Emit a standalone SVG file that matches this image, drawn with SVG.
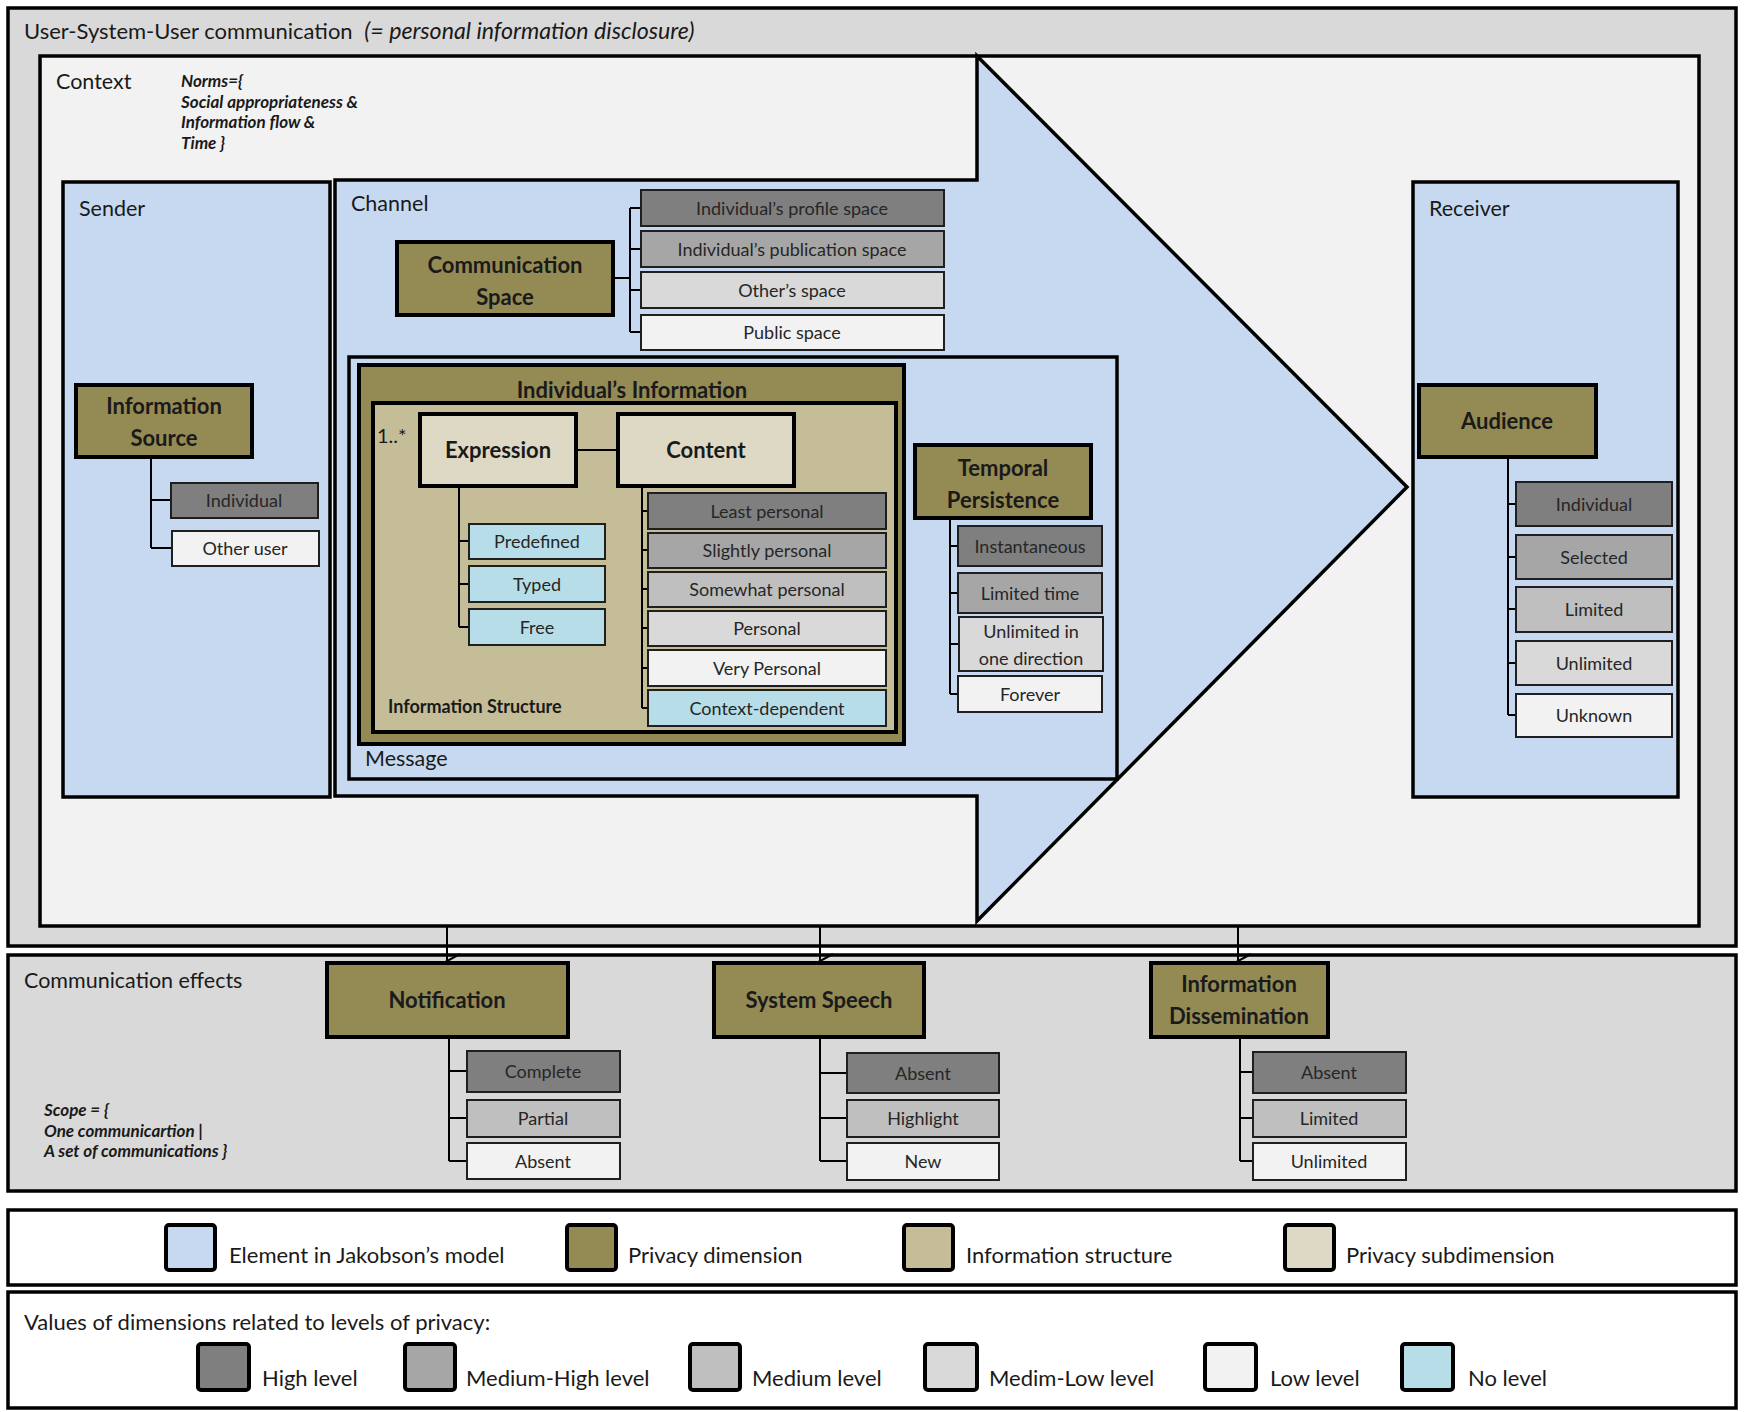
<svg xmlns="http://www.w3.org/2000/svg" width="1744" height="1412" viewBox="0 0 1744 1412">
  <defs>
    <marker id="vee" viewBox="-9 -15 18 17" refX="0" refY="0" markerWidth="18" markerHeight="17" markerUnits="userSpaceOnUse" orient="auto">
      <path d="M-7,-13 L0,0 L7,-13" fill="none" stroke="#000" stroke-width="2"/>
    </marker>
  </defs>
  <style>
    text { font-family: Lato, "Open Sans", "Liberation Sans", sans-serif; fill: #1a1a1a; }
    .frame { stroke: #000; stroke-width: 3.5; }
    .outer { fill: #d9d9d9; }
    .ctx { fill: #f2f2f2; }
    .blue { fill: #c6d9f1; }
    .dim { fill: #948a54; stroke: #000; stroke-width: 4; }
    .struct { fill: #c4bd97; stroke: #000; stroke-width: 4; }
    .sub { fill: #ddd9c4; stroke: #000; stroke-width: 4; }
    .val { stroke: #1f1f1f; stroke-width: 2; }
    .high { fill: #7f7f7f; }
    .mhigh { fill: #a6a6a6; }
    .med { fill: #bfbfbf; }
    .mlow { fill: #d9d9d9; }
    .low { fill: #f2f2f2; }
    .none { fill: #b7dee8; }
    .lbl { font-size: 21.5px; }
    .leg { font-size: 22px; }
    .dl { font-size: 22px; font-weight: 700; text-anchor: middle; }
    .vl { font-size: 18px; text-anchor: middle; fill: #262626; }
    .note { font-size: 17px; font-weight: 700; font-style: italic; }
    .tree { fill: none; stroke: #000; stroke-width: 2; }
    .sw { stroke: #000; stroke-width: 4; }
  </style>

  <!-- outer frame: user-system-user communication -->
  <g id="communication">
    <rect class="outer frame" x="8" y="8" width="1728" height="938"/>
    <text x="24" y="39" font-size="22">User-System-User communication <tspan font-style="italic" font-size="23.2" dx="6">(= personal information disclosure)</tspan></text>
  </g>

  <!-- context -->
  <g id="context">
    <rect class="ctx frame" x="40" y="56" width="1659" height="870"/>
    <text class="lbl" x="56" y="89">Context</text>
    <text class="note" x="181" y="87">Norms={</text>
    <text class="note" x="181" y="108">Social appropriateness &amp;</text>
    <text class="note" x="181" y="128">Information flow &amp;</text>
    <text class="note" x="181" y="149">Time }</text>
  </g>

  <!-- sender -->
  <g id="sender">
    <rect class="blue frame" x="63" y="182" width="267" height="615"/>
    <text class="lbl" x="79" y="216">Sender</text>
  </g>

  <!-- channel drawn as the big arrow -->
  <g id="channel">
    <path class="blue frame" d="M335,180 L977,180 L977,56 L1407,487 L977,921 L977,796 L335,796 Z" stroke-linejoin="miter"/>
    <text class="lbl" x="351" y="211">Channel</text>
  </g>

  <!-- receiver -->
  <g id="receiver">
    <rect class="blue frame" x="1413" y="182" width="265" height="615"/>
    <text class="lbl" x="1429" y="216">Receiver</text>
  </g>

  <!-- message -->
  <g id="message">
    <rect class="blue frame" x="349" y="357" width="768" height="422"/>
    <text class="lbl" x="365" y="766">Message</text>
  </g>

  <!-- individual's information -->
  <g id="individuals-information">
    <rect class="dim" x="359" y="365" width="545" height="379"/>
    <text class="dl" x="632" y="398">Individual’s Information</text>
  </g>

  <!-- information structure -->
  <g id="information-structure">
    <rect class="struct" x="373" y="403" width="523" height="329"/>
    <text x="388" y="713" font-size="18" font-weight="700">Information Structure</text>
    <text x="377" y="443" font-size="20">1..*</text>
  </g>

  <!-- communication effects frame -->
  <g id="communication-effects">
    <rect class="outer frame" x="8" y="955" width="1728" height="236"/>
    <text class="lbl" x="24" y="988">Communication effects</text>
    <text class="note" x="44" y="1116">Scope = {</text>
    <text class="note" x="44" y="1137">One communicartion |</text>
    <text class="note" x="44" y="1157">A set of communications }</text>
  </g>

  <!-- connectors -->
  <g id="connectors">
    <!-- sender tree -->
    <path class="tree" d="M151,457 V548 M151,500 H171 M151,548 H172"/>
    <!-- communication space tree -->
    <path class="tree" d="M613,278 H630 M630,208 V332 M630,208 H641 M630,249 H641 M630,290 H641 M630,332 H641"/>
    <!-- expression to content -->
    <path class="tree" d="M576,450 H618"/>
    <!-- expression tree -->
    <path class="tree" d="M459,486 V627 M459,541 H469 M459,584 H469 M459,627 H469"/>
    <!-- content tree -->
    <path class="tree" d="M642,486 V708 M642,511 H648 M642,550 H648 M642,589 H648 M642,628 H648 M642,668 H648 M642,708 H648"/>
    <!-- temporal persistence tree -->
    <path class="tree" d="M950,518 V694 M950,546 H958 M950,593 H958 M950,644 H958 M950,694 H958"/>
    <!-- audience tree -->
    <path class="tree" d="M1508,457 V715 M1508,504 H1516 M1508,557 H1516 M1508,609 H1516 M1508,663 H1516 M1508,715 H1516"/>
    <!-- effects arrows -->
    <path class="tree" d="M447,926 V961" marker-end="url(#vee)"/>
    <path class="tree" d="M820,926 V961" marker-end="url(#vee)"/>
    <path class="tree" d="M1238,926 V961" marker-end="url(#vee)"/>
    <!-- effects trees -->
    <path class="tree" d="M449,1037 V1161 M449,1071 H467 M449,1118 H467 M449,1161 H467"/>
    <path class="tree" d="M820,1037 V1161 M820,1073 H847 M820,1118 H847 M820,1161 H847"/>
    <path class="tree" d="M1240,1037 V1161 M1240,1072 H1253 M1240,1118 H1253 M1240,1161 H1253"/>
  </g>

  <!-- information source -->
  <g id="information-source">
    <rect class="dim" x="76" y="385" width="176" height="72"/>
    <text class="dl" x="164" y="414">Information</text>
    <text class="dl" x="164" y="446">Source</text>
  </g>
  <g id="source-individual">
    <rect class="val high" x="171" y="483" width="147" height="35"/>
    <text class="vl" x="244" y="507">Individual</text>
  </g>
  <g id="source-other-user">
    <rect class="val low" x="172" y="531" width="147" height="35"/>
    <text class="vl" x="245" y="555">Other user</text>
  </g>

  <!-- communication space -->
  <g id="communication-space">
    <rect class="dim" x="397" y="242" width="216" height="73"/>
    <text class="dl" x="505" y="273">Communication</text>
    <text class="dl" x="505" y="305">Space</text>
  </g>
  <g id="space-profile">
    <rect class="val high" x="641" y="190" width="303" height="36"/>
    <text class="vl" x="792" y="215">Individual’s profile space</text>
  </g>
  <g id="space-publication">
    <rect class="val mhigh" x="641" y="231" width="303" height="36"/>
    <text class="vl" x="792" y="256">Individual’s publication space</text>
  </g>
  <g id="space-others">
    <rect class="val mlow" x="641" y="272" width="303" height="36"/>
    <text class="vl" x="792" y="297">Other’s space</text>
  </g>
  <g id="space-public">
    <rect class="val low" x="641" y="315" width="303" height="35"/>
    <text class="vl" x="792" y="339">Public space</text>
  </g>

  <!-- expression / content -->
  <g id="expression">
    <rect class="sub" x="420" y="414" width="156" height="72"/>
    <text class="dl" x="498" y="458">Expression</text>
  </g>
  <g id="content">
    <rect class="sub" x="618" y="414" width="176" height="72"/>
    <text class="dl" x="706" y="458">Content</text>
  </g>
  <g id="expr-predefined">
    <rect class="val none" x="469" y="524" width="136" height="35"/>
    <text class="vl" x="537" y="548">Predefined</text>
  </g>
  <g id="expr-typed">
    <rect class="val none" x="469" y="566" width="136" height="36"/>
    <text class="vl" x="537" y="591">Typed</text>
  </g>
  <g id="expr-free">
    <rect class="val none" x="469" y="609" width="136" height="36"/>
    <text class="vl" x="537" y="634">Free</text>
  </g>
  <g id="content-least">
    <rect class="val high" x="648" y="493" width="238" height="36"/>
    <text class="vl" x="767" y="518">Least personal</text>
  </g>
  <g id="content-slightly">
    <rect class="val mhigh" x="648" y="533" width="238" height="35"/>
    <text class="vl" x="767" y="557">Slightly personal</text>
  </g>
  <g id="content-somewhat">
    <rect class="val med" x="648" y="572" width="238" height="35"/>
    <text class="vl" x="767" y="596">Somewhat personal</text>
  </g>
  <g id="content-personal">
    <rect class="val mlow" x="648" y="611" width="238" height="35"/>
    <text class="vl" x="767" y="635">Personal</text>
  </g>
  <g id="content-very">
    <rect class="val low" x="648" y="650" width="238" height="36"/>
    <text class="vl" x="767" y="675">Very Personal</text>
  </g>
  <g id="content-context">
    <rect class="val none" x="648" y="690" width="238" height="36"/>
    <text class="vl" x="767" y="715">Context-dependent</text>
  </g>

  <!-- temporal persistence -->
  <g id="temporal-persistence">
    <rect class="dim" x="915" y="445" width="176" height="73"/>
    <text class="dl" x="1003" y="476">Temporal</text>
    <text class="dl" x="1003" y="508">Persistence</text>
  </g>
  <g id="tp-instantaneous">
    <rect class="val high" x="958" y="526" width="144" height="40"/>
    <text class="vl" x="1030" y="553">Instantaneous</text>
  </g>
  <g id="tp-limited">
    <rect class="val mhigh" x="958" y="573" width="144" height="40"/>
    <text class="vl" x="1030" y="600">Limited time</text>
  </g>
  <g id="tp-unlimited">
    <rect class="val mlow" x="959" y="617" width="144" height="54"/>
    <text class="vl" x="1031" y="638">Unlimited in</text>
    <text class="vl" x="1031" y="665">one direction</text>
  </g>
  <g id="tp-forever">
    <rect class="val low" x="958" y="676" width="144" height="36"/>
    <text class="vl" x="1030" y="701">Forever</text>
  </g>

  <!-- audience -->
  <g id="audience">
    <rect class="dim" x="1419" y="385" width="177" height="72"/>
    <text class="dl" x="1507" y="429">Audience</text>
  </g>
  <g id="aud-individual">
    <rect class="val high" x="1516" y="482" width="156" height="44"/>
    <text class="vl" x="1594" y="511">Individual</text>
  </g>
  <g id="aud-selected">
    <rect class="val mhigh" x="1516" y="535" width="156" height="44"/>
    <text class="vl" x="1594" y="564">Selected</text>
  </g>
  <g id="aud-limited">
    <rect class="val med" x="1516" y="587" width="156" height="45"/>
    <text class="vl" x="1594" y="616">Limited</text>
  </g>
  <g id="aud-unlimited">
    <rect class="val mlow" x="1516" y="641" width="156" height="44"/>
    <text class="vl" x="1594" y="670">Unlimited</text>
  </g>
  <g id="aud-unknown">
    <rect class="val low" x="1516" y="694" width="156" height="43"/>
    <text class="vl" x="1594" y="722">Unknown</text>
  </g>

  <!-- effects dimensions -->
  <g id="notification">
    <rect class="dim" x="327" y="963" width="241" height="74"/>
    <text class="dl" x="447" y="1008">Notification</text>
  </g>
  <g id="notif-complete">
    <rect class="val high" x="467" y="1051" width="153" height="41"/>
    <text class="vl" x="543" y="1078">Complete</text>
  </g>
  <g id="notif-partial">
    <rect class="val med" x="467" y="1100" width="153" height="37"/>
    <text class="vl" x="543" y="1125">Partial</text>
  </g>
  <g id="notif-absent">
    <rect class="val low" x="467" y="1143" width="153" height="36"/>
    <text class="vl" x="543" y="1168">Absent</text>
  </g>

  <g id="system-speech">
    <rect class="dim" x="714" y="963" width="210" height="74"/>
    <text class="dl" x="819" y="1008">System Speech</text>
  </g>
  <g id="speech-absent">
    <rect class="val high" x="847" y="1053" width="152" height="40"/>
    <text class="vl" x="923" y="1080">Absent</text>
  </g>
  <g id="speech-highlight">
    <rect class="val med" x="847" y="1100" width="152" height="37"/>
    <text class="vl" x="923" y="1125">Highlight</text>
  </g>
  <g id="speech-new">
    <rect class="val low" x="847" y="1143" width="152" height="37"/>
    <text class="vl" x="923" y="1168">New</text>
  </g>

  <g id="information-dissemination">
    <rect class="dim" x="1151" y="963" width="177" height="74"/>
    <text class="dl" x="1239" y="992">Information</text>
    <text class="dl" x="1239" y="1024">Dissemination</text>
  </g>
  <g id="dissem-absent">
    <rect class="val high" x="1253" y="1052" width="153" height="41"/>
    <text class="vl" x="1329" y="1079">Absent</text>
  </g>
  <g id="dissem-limited">
    <rect class="val med" x="1253" y="1100" width="153" height="37"/>
    <text class="vl" x="1329" y="1125">Limited</text>
  </g>
  <g id="dissem-unlimited">
    <rect class="val low" x="1253" y="1143" width="153" height="37"/>
    <text class="vl" x="1329" y="1168">Unlimited</text>
  </g>

  <!-- legend: element kinds -->
  <g id="legend-elements">
    <rect fill="#fff" class="frame" x="8" y="1210" width="1728" height="75"/>
    <rect class="sw blue" x="166" y="1225" width="49" height="45" rx="3"/>
    <text class="leg" x="229" y="1263">Element in Jakobson’s model</text>
    <rect class="sw" fill="#948a54" x="567" y="1225" width="49" height="45" rx="3"/>
    <text class="leg" x="628" y="1263">Privacy dimension</text>
    <rect class="sw" fill="#c4bd97" x="904" y="1225" width="49" height="45" rx="3"/>
    <text class="leg" x="966" y="1263">Information structure</text>
    <rect class="sw" fill="#ddd9c4" x="1285" y="1225" width="49" height="45" rx="3"/>
    <text class="leg" x="1346" y="1263">Privacy subdimension</text>
  </g>

  <!-- legend: privacy levels -->
  <g id="legend-levels">
    <rect fill="#fff" class="frame" x="8" y="1292" width="1728" height="116"/>
    <text class="leg" x="24" y="1330">Values of dimensions related to levels of privacy:</text>
    <rect class="sw high" x="198" y="1344" width="51" height="46" rx="3"/>
    <text class="leg" x="262" y="1386">High level</text>
    <rect class="sw mhigh" x="405" y="1344" width="50" height="46" rx="3"/>
    <text class="leg" x="466" y="1386">Medium-High level</text>
    <rect class="sw med" x="690" y="1344" width="50" height="46" rx="3"/>
    <text class="leg" x="752" y="1386">Medium level</text>
    <rect class="sw mlow" x="925" y="1344" width="52" height="46" rx="3"/>
    <text class="leg" x="989" y="1386">Medim-Low level</text>
    <rect class="sw low" x="1205" y="1344" width="51" height="46" rx="3"/>
    <text class="leg" x="1270" y="1386">Low level</text>
    <rect class="sw none" x="1402" y="1344" width="51" height="46" rx="3"/>
    <text class="leg" x="1468" y="1386">No level</text>
  </g>
</svg>
